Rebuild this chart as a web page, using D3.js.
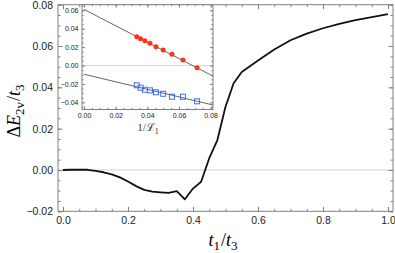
<!DOCTYPE html>
<html>
<head>
<meta charset="utf-8">
<script src="https://cdn.jsdelivr.net/npm/d3@7"></script>
<style>
body { margin:0; background:#fff; }
.tick text { font-family:"Liberation Sans", Arial, sans-serif; fill:#222; }
.tick line { stroke:#808080; }
</style>
</head>
<body>
<div id="chart"></div>
<script>
var width = 395, height = 253;

// main curve: t1/t3 vs dE2v/t3
var tRatio = [0, 0.025, 0.05, 0.075, 0.1, 0.125, 0.15, 0.175, 0.2, 0.225, 0.25, 0.275, 0.3, 0.325, 0.35, 0.375, 0.4, 0.425, 0.45, 0.475, 0.5, 0.525, 0.55, 0.6, 0.65, 0.7, 0.75, 0.8, 0.85, 0.9, 0.95, 1.0];
var dE = [0, 0.0001, 0.0002, 0.0001, -0.0004, -0.0011, -0.0021, -0.0036, -0.0056, -0.0078, -0.0096, -0.0105, -0.0108, -0.0111, -0.0102, -0.0142, -0.0090, -0.0057, 0.0057, 0.0145, 0.0306, 0.0420, 0.0474, 0.0530, 0.0583, 0.0628, 0.0660, 0.0686, 0.0707, 0.0725, 0.0740, 0.0754];

// inset: 1/L1 vs gap, two branches
var invL = [1/30, 1/28, 1/26, 1/24, 1/22, 1/20, 1/18, 1/16, 1/14];
var upper = [0.0313, 0.0291, 0.0270, 0.0241, 0.0204, 0.0168, 0.0122, 0.0060, -0.0024];
var lower = [-0.0215, -0.0241, -0.0263, -0.0270, -0.0291, -0.0307, -0.0339, -0.0339, -0.0389];
// linear fits (intercept, slope)
var upperFit = [0.061, -0.89];
var lowerFit = [-0.0095, -0.41];

var svg = d3.select("#chart").append("svg")
    .attr("width", width)
    .attr("height", height);

// ---------- main plot ----------
var box = {left:58, right:393, top:4.7, bottom:211.3};

var x = d3.scaleLinear()
    .domain([-0.0154, 1.0154])
    .range([box.left, box.right]);
var y = d3.scaleLinear()
    .domain([-0.02, 0.08])
    .range([box.bottom, box.top]);

svg.append("line")
    .attr("x1", box.left).attr("x2", box.right)
    .attr("y1", y(0)).attr("y2", y(0))
    .attr("stroke", "#d0d0d0").attr("stroke-width", 1);

var xMajor = d3.range(0, 1.0001, 0.2);
var xMinor = d3.range(0, 1.0001, 0.05);
var yMajor = d3.range(-0.02, 0.0801, 0.02);
var yMinor = d3.range(-0.02, 0.0801, 0.005);

function frameAxes(g, sx, sy, b, majX, minX, majY, minY, fx, fy, big, small, pad, fs) {
    // minor ticks first
    g.append("g").attr("transform", "translate(0," + b.bottom + ")")
        .call(d3.axisBottom(sx).tickValues(minX).tickSize(-small).tickFormat(""));
    g.append("g").attr("transform", "translate(0," + b.top + ")")
        .call(d3.axisTop(sx).tickValues(minX).tickSize(-small).tickFormat(""));
    g.append("g").attr("transform", "translate(" + b.left + ",0)")
        .call(d3.axisLeft(sy).tickValues(minY).tickSize(-small).tickFormat(""));
    g.append("g").attr("transform", "translate(" + b.right + ",0)")
        .call(d3.axisRight(sy).tickValues(minY).tickSize(-small).tickFormat(""));
    // majors with labels
    g.append("g").attr("transform", "translate(0," + b.bottom + ")")
        .call(d3.axisBottom(sx).tickValues(majX).tickSize(-big).tickPadding(pad).tickFormat(d3.format(fx)));
    g.append("g").attr("transform", "translate(" + b.left + ",0)")
        .call(d3.axisLeft(sy).tickValues(majY).tickSize(-big).tickPadding(pad).tickFormat(d3.format(fy)));
    g.append("g").attr("transform", "translate(0," + b.top + ")")
        .call(d3.axisTop(sx).tickValues(majX).tickSize(-big).tickFormat(""));
    g.append("g").attr("transform", "translate(" + b.right + ",0)")
        .call(d3.axisRight(sy).tickValues(majY).tickSize(-big).tickFormat(""));
    g.selectAll(".domain").remove();
    g.selectAll(".tick text").style("font-size", fs + "px");
    g.append("rect")
        .attr("x", b.left).attr("y", b.top)
        .attr("width", b.right - b.left).attr("height", b.bottom - b.top)
        .attr("fill", "none").attr("stroke", "#808080").attr("stroke-width", 1);
}

var mainG = svg.append("g");
frameAxes(mainG, x, y, box, xMajor, xMinor, yMajor, yMinor, ".1f", ".2f", 4.5, 2.5, 5, 10.5);

svg.append("path")
    .datum(d3.zip(tRatio, dE))
    .attr("fill", "none")
    .attr("stroke", "#111")
    .attr("stroke-width", 1.8)
    .attr("stroke-linejoin", "round")
    .attr("d", d3.line().x(d => x(d[0])).y(d => y(d[1])));

// axis labels
var serif = "'Liberation Serif', 'DejaVu Serif', serif";
var xl = svg.append("text")
    .attr("x", 223).attr("y", 246)
    .attr("text-anchor", "middle")
    .style("font-family", serif)
    .style("font-size", "18px");
xl.append("tspan").style("font-style", "italic").text("t");
xl.append("tspan").attr("dy", 4).style("font-size", "13px").text("1");
xl.append("tspan").attr("dy", -4).attr("dx", 1).text("/");
xl.append("tspan").style("font-style", "italic").text("t");
xl.append("tspan").attr("dy", 4).style("font-size", "13px").text("3");

var yl = svg.append("text")
    .attr("transform", "translate(20,111) rotate(-90)")
    .attr("text-anchor", "middle")
    .style("font-family", serif)
    .style("font-size", "18px");
yl.append("tspan").text("Δ");
yl.append("tspan").style("font-style", "italic").text("E");
yl.append("tspan").attr("dy", 4).style("font-size", "13px").text("2v");
yl.append("tspan").attr("dy", -4).attr("dx", 1).text("/");
yl.append("tspan").style("font-style", "italic").text("t");
yl.append("tspan").attr("dy", 4).style("font-size", "13px").text("3");

// ---------- inset ----------
var ib = {left:82, right:213, top:4.7, bottom:109.5};
var ix = d3.scaleLinear()
    .domain([-0.0013, 0.0815])
    .range([ib.left, ib.right]);
var iy = d3.scaleLinear()
    .domain([-0.0478, 0.0661])
    .range([ib.bottom, ib.top]);

var inset = svg.append("g");
inset.append("rect")
    .attr("x", ib.left).attr("y", ib.top)
    .attr("width", ib.right - ib.left).attr("height", ib.bottom - ib.top)
    .attr("fill", "#fff");
inset.append("line")
    .attr("x1", ib.left).attr("x2", ib.right)
    .attr("y1", iy(0)).attr("y2", iy(0))
    .attr("stroke", "#d8d8d8").attr("stroke-width", 1);

frameAxes(inset, ix, iy, ib,
    d3.range(0, 0.0801, 0.02), d3.range(0, 0.0801, 0.005),
    d3.range(-0.04, 0.0601, 0.02), d3.range(-0.045, 0.0651, 0.005),
    ".2f", ".2f", 3, 1.6, 3.5, 7);

var fitDomain = [0, 0.0815];
[upperFit, lowerFit].forEach(function(f) {
    inset.append("line")
        .attr("x1", ix(fitDomain[0])).attr("y1", iy(f[0] + f[1] * fitDomain[0]))
        .attr("x2", ix(fitDomain[1])).attr("y2", iy(f[0] + f[1] * fitDomain[1]))
        .attr("stroke", "#666").attr("stroke-width", 1);
});

inset.append("g").selectAll("circle")
    .data(d3.zip(invL, upper))
    .enter()
    .append("circle")
    .attr("cx", d => ix(d[0]))
    .attr("cy", d => iy(d[1]))
    .attr("r", 2.5)
    .attr("fill", "#ff3219");

var sq = 5;
inset.append("g").selectAll("rect")
    .data(d3.zip(invL, lower))
    .enter()
    .append("rect")
    .attr("x", d => ix(d[0]) - sq/2)
    .attr("y", d => iy(d[1]) - sq/2)
    .attr("width", sq).attr("height", sq)
    .attr("fill", "none")
    .attr("stroke", "#3b6ff0")
    .attr("stroke-width", 1);

var il = svg.append("text")
    .attr("x", 148).attr("y", 131)
    .attr("text-anchor", "middle")
    .style("font-family", serif)
    .style("font-size", "11px")
    .style("fill", "#333");
il.append("tspan").text("1/");
il.append("tspan").style("font-family", "'DejaVu Serif', serif").text("ℒ");
il.append("tspan").attr("dy", 3).style("font-size", "8px").text("1");
</script>
</body>
</html>
